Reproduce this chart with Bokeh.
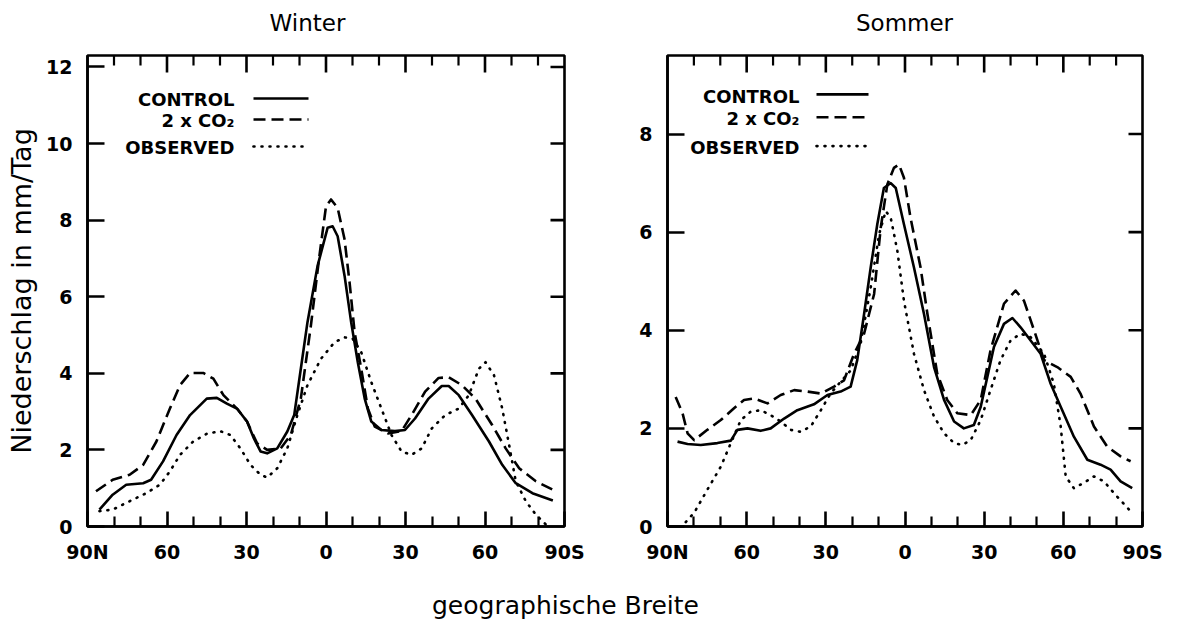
from bokeh.plotting import figure
from bokeh.layouts import column, row
from bokeh.models import Range1d, FixedTicker
from bokeh.embed import file_html
from bokeh.resources import INLINE
from bokeh.core.properties import value

# ---------------- data (latitude: negative = N, positive = S) ----------------
lat_ticks = [-90, -60, -30, 0, 30, 60, 90]
lat_labels = ["90N", "60", "30", "0", "30", "60", "90S"]
lat_minor = [-80, -70, -50, -40, -20, -10, 10, 20, 40, 50, 70, 80]
winter_yticks = [0, 2, 4, 6, 8, 10, 12]
sommer_yticks = [0, 2, 4, 6, 8]
series_names = ["CONTROL", "2 x CO\u2082", "OBSERVED"]

w_ctrl_lat = [-85.5, -80.5, -75.4, -69, -66, -61.5, -56.4, -51.3, -45, -41.2, -37.4, -33.6, -29.8, -27.2,
              -24.7, -22.2, -18.4, -14.6, -12, -9.5, -7, -3.2, 0.6, 2.5, 4.4, 7, 9.5, 12, 14.6, 17.1, 20.9,
              26, 29.8, 33.6, 38.7, 43.7, 46.3, 50.1, 55.1, 61.5, 66.5, 71.6, 77.9, 85.6]
w_ctrl = [0.44, 0.83, 1.09, 1.13, 1.22, 1.70, 2.39, 2.91, 3.34, 3.36, 3.21, 3.08, 2.74, 2.30,
          1.96, 1.91, 2.04, 2.48, 2.91, 4.12, 5.33, 6.80, 7.80, 7.84, 7.58, 6.55, 5.33, 4.29, 3.34, 2.74, 2.52,
          2.49, 2.52, 2.82, 3.34, 3.67, 3.67, 3.43, 2.91, 2.22, 1.61, 1.13, 0.87, 0.68]

w_co2_lat = [-86.8, -80.5, -74.1, -69, -64, -58.9, -55.1, -51.3, -46.3, -42.5, -38.7, -33.6, -29.8, -26,
             -22.2, -17.1, -13.3, -9.5, -5.7, -2.5, 0, 1.9, 4.4, 7, 8.9, 10.8, 13.3, 15.8, 18.4, 23.4,
             28.5, 32.3, 37.4, 42.5, 46.3, 51.3, 56.4, 62.7, 67.8, 72.9, 79.2, 85.6]
w_co2 = [0.92, 1.22, 1.35, 1.61, 2.22, 3.08, 3.69, 4.01, 4.01, 3.86, 3.43, 3.08, 2.74, 2.17,
         2.00, 2.04, 2.39, 3.34, 5.25, 7.06, 8.36, 8.54, 8.32, 7.50, 6.37, 5.07, 4.12, 3.08, 2.61, 2.43,
         2.49, 2.91, 3.52, 3.88, 3.90, 3.69, 3.34, 2.65, 2.04, 1.52, 1.18, 0.96]

w_obs_lat = [-85.5, -80.5, -74.1, -67.8, -62.7, -58.9, -55.1, -50.1, -45, -39.9, -36.1, -32.3, -28.5,
             -24.7, -22.2, -18.4, -14.6, -10.8, -7, -1.9, 3.2, 7, 10.1, 13.3, 17.1, 20.9, 24.7, 28.5,
             32.3, 36.1, 39.9, 45, 50.1, 53.9, 57.7, 60.2, 63.4, 66.5, 69.1, 71.6, 75.4, 79.2, 83]
w_obs = [0.40, 0.44, 0.66, 0.87, 1.09, 1.44, 1.87, 2.22, 2.42, 2.49, 2.39, 2.04, 1.61,
         1.35, 1.28, 1.52, 2.04, 2.91, 3.69, 4.38, 4.81, 4.94, 4.90, 4.55, 3.77, 3.08, 2.39, 1.96,
         1.87, 2.04, 2.56, 2.91, 3.08, 3.43, 4.12, 4.29, 3.95, 3.08, 2.13, 1.18, 0.66, 0.31, 0.05]

s_ctrl_lat = [-86.2, -82.4, -77.4, -71.1, -66, -63.5, -59.7, -54.7, -50.9, -45.8, -40.8, -34.5, -29.4,
              -24.4, -20.6, -18.1, -15.5, -13, -10.5, -8, -5.4, -3.5, -0.4, 3.4, 7.2, 11, 14.8, 18.6,
              22.3, 26.1, 28.7, 31.2, 33.7, 37.5, 40.7, 43.8, 47.6, 51.4, 55.2, 59, 64, 69.1, 74.1,
              77.9, 81.7, 86.1]
s_ctrl = [1.73, 1.68, 1.66, 1.70, 1.75, 1.97, 2.00, 1.95, 2.00, 2.20, 2.37, 2.49, 2.68,
          2.75, 2.85, 3.39, 4.33, 5.28, 6.16, 6.90, 7.00, 6.90, 6.16, 5.28, 4.33, 3.25, 2.58, 2.14,
          2.00, 2.07, 2.44, 3.05, 3.66, 4.13, 4.25, 4.06, 3.79, 3.52, 2.91, 2.44, 1.83, 1.36, 1.26,
          1.16, 0.92, 0.78]

s_co2_lat = [-86.9, -84.3, -82.4, -79.9, -74.9, -69.8, -64.8, -61, -57.2, -52.1, -47.1, -42, -37,
             -31.9, -26.9, -23.1, -19.3, -15.5, -11.7, -9.2, -6.7, -4.2, -2.3, -0.4, 2.1, 5.9, 8.5,
             12.2, 16, 19.8, 24.9, 28.7, 32.4, 37.5, 41.9, 45.1, 48.9, 52.7, 57.7, 62.8, 66.5, 71.6,
             76.6, 81.7, 85.5]
s_co2 = [2.64, 2.31, 1.90, 1.76, 1.97, 2.17, 2.41, 2.58, 2.61, 2.51, 2.68, 2.78, 2.75,
         2.71, 2.85, 2.98, 3.52, 3.93, 4.74, 6.09, 6.97, 7.31, 7.38, 7.11, 6.29, 5.28, 4.33,
         3.12, 2.58, 2.31, 2.27, 2.58, 3.59, 4.54, 4.81, 4.60, 4.00, 3.39, 3.25, 3.05, 2.71, 2.04,
         1.63, 1.43, 1.33]

s_obs_lat = [-83.1, -79.9, -74.9, -69.8, -66, -62.2, -58.5, -54.7, -50.9, -47.1, -43.3, -39.5, -35.7,
             -31.9, -28.2, -24.4, -20.6, -16.8, -13, -9.8, -7.3, -5.4, -2.9, -0.4, 3.4, 7.2, 11, 14.8,
             18.6, 21.7, 24.9, 28.7, 32.4, 36.2, 40, 43.8, 47.6, 52.7, 56.4, 59, 60.9, 64, 67.8, 71.6,
             75.4, 79.2, 85.5]
s_obs = [0.09, 0.28, 0.75, 1.22, 1.70, 2.17, 2.34, 2.37, 2.27, 2.14, 1.97, 1.93, 2.04,
         2.37, 2.71, 2.95, 3.18, 3.73, 4.87, 5.96, 6.43, 6.29, 5.62, 4.60, 3.52, 2.78, 2.24, 1.90,
         1.70, 1.66, 1.76, 2.17, 2.78, 3.39, 3.79, 3.93, 3.86, 3.52, 2.91, 2.04, 1.02, 0.78, 0.89, 1.02,
         0.92, 0.68, 0.31]

# ---------------- styling ----------------
FONT = "DejaVu Sans"
LW = 2.6
DASHES = ["solid", "12 6", "1 7"]
TOTAL_W = 1186
TOP_H, ROW_H, BOT_H = 40, 535, 52


def make_panel(width, bl, br, bt, bb, ymax, yticks, ylabel, legend_px):
    p = figure(width=width, height=ROW_H, x_range=Range1d(-90, 90), y_range=Range1d(0, ymax),
               output_backend="svg", toolbar_location=None,
               min_border_left=bl, min_border_right=br, min_border_top=bt, min_border_bottom=bb)
    p.grid.grid_line_color = None
    p.background_fill_color = "white"
    p.border_fill_color = "white"
    p.outline_line_color = "black"
    p.outline_line_width = LW

    fw = width - bl - br
    fh = ROW_H - bt - bb
    px_x = 180.0 / fw      # data units per pixel (x)
    px_y = ymax / fh       # data units per pixel (y)

    bottom = p.below[0]
    left = p.left[0]
    bottom.ticker = FixedTicker(ticks=lat_ticks, minor_ticks=lat_minor)
    left.ticker = FixedTicker(ticks=yticks, minor_ticks=[])
    bottom.major_tick_in = 15
    bottom.minor_tick_in = 10
    left.major_tick_in = 17
    left.minor_tick_in = 0
    for ax in [bottom, left]:
        ax.major_tick_out = 0
        ax.minor_tick_out = 0
        ax.axis_line_width = LW
        ax.major_tick_line_width = LW
        ax.minor_tick_line_width = 2.2
        ax.axis_line_color = "black"
        ax.major_tick_line_color = "black"
        ax.minor_tick_line_color = "black"
        ax.major_label_text_font = FONT
        ax.major_label_text_font_style = "bold"
        ax.major_label_text_font_size = "19px"
        ax.major_label_text_color = "black"
    bottom.major_label_overrides = {t: l for t, l in zip(lat_ticks, lat_labels)}
    bottom.major_label_standoff = 14
    left.major_label_standoff = 15
    if ylabel:
        left.axis_label = ylabel
        left.axis_label_text_font = FONT
        left.axis_label_text_font_style = "normal"
        left.axis_label_text_font_size = "27px"
        left.axis_label_standoff = 6
        left.axis_label_text_color = "black"

    # inward ticks on the top and right frame edges (no labels there)
    major_top = [t for t in lat_ticks if -90 < t < 90]
    p.segment(x0=major_top, x1=major_top, y0=[ymax] * len(major_top),
              y1=[ymax - 17 * px_y] * len(major_top), line_color="black", line_width=LW)
    p.segment(x0=lat_minor, x1=lat_minor, y0=[ymax] * len(lat_minor),
              y1=[ymax - 10 * px_y] * len(lat_minor), line_color="black", line_width=2.2)
    right_ticks = [t for t in yticks if 0 < t < ymax]
    p.segment(x0=[90] * len(right_ticks), x1=[90 - 14 * px_x] * len(right_ticks), y0=right_ticks,
              y1=right_ticks, line_color="black", line_width=LW)

    # legend (label text left of a line sample), positions given in panel pixels
    def dx(px):
        return -90 + (px - bl) * px_x

    def dy(py):
        return (bt + fh - py) * px_y

    text_right, line_x0, line_x1, text_ys, line_ys = legend_px
    for name, dash, ty, ly in zip(series_names, DASHES, text_ys, line_ys):
        p.text(x=[dx(text_right)], y=[dy(ty)], text=[name], text_align="right", text_baseline="middle",
               text_font=value(FONT), text_font_style="bold", text_font_size="18px", text_color="black")
        p.line(x=[dx(line_x0), dx(line_x1)], y=[dy(ly), dy(ly)], line_color="black", line_width=LW,
               line_dash=dash, line_cap="round" if dash == "1 7" else "butt")
    return p


def draw_curves(p, data):
    for (lx, ly), dash in zip(data, DASHES):
        p.line(x=lx, y=ly, line_color="black", line_width=LW, line_dash=dash,
               line_cap="round" if dash == "1 7" else "butt", line_join="round")


# Winter panel: page frame x 87..564, y 55..526
f1 = make_panel(615, 87, 51, 15, 49, 12.3, winter_yticks, "Niederschlag in mm/Tag",
                (234, 253, 308, [99 - 40, 120 - 40, 147 - 40], [98 - 40, 119 - 40, 146 - 40]))
draw_curves(f1, [(w_ctrl_lat, w_ctrl), (w_co2_lat, w_co2), (w_obs_lat, w_obs)])

# Sommer panel: page frame x 667..1142, y 54..527
f2 = make_panel(571, 52, 44, 14, 48, 9.6, sommer_yticks, None,
                (799 - 615, 816 - 615, 868 - 615, [95 - 40, 117 - 40, 146 - 40], [93 - 40, 116 - 40, 145 - 40]))
draw_curves(f2, [(s_ctrl_lat, s_ctrl), (s_co2_lat, s_co2), (s_obs_lat, s_obs)])


def text_strip(height, items):
    p = figure(width=TOTAL_W, height=height, x_range=Range1d(0, TOTAL_W), y_range=Range1d(0, height),
               output_backend="svg", toolbar_location=None, x_axis_location=None, y_axis_location=None,
               min_border=0)
    p.grid.visible = False
    p.outline_line_color = None
    p.background_fill_color = "white"
    p.border_fill_color = "white"
    for txt, cx, cy, size in items:
        p.text(x=[cx], y=[height - cy], text=[txt], text_align="center", text_baseline="middle",
               text_font=value(FONT), text_font_size=size, text_color="black")
    return p


f_top = text_strip(TOP_H, [("Winter", 307, 22, "23px"), ("Sommer", 904, 22, "23px")])
f_bot = text_strip(BOT_H, [("geographische Breite", 565, 30, "25px")])

layout = column(f_top, row(f1, f2), f_bot)
open("out.html", "w").write(file_html(layout, INLINE))
